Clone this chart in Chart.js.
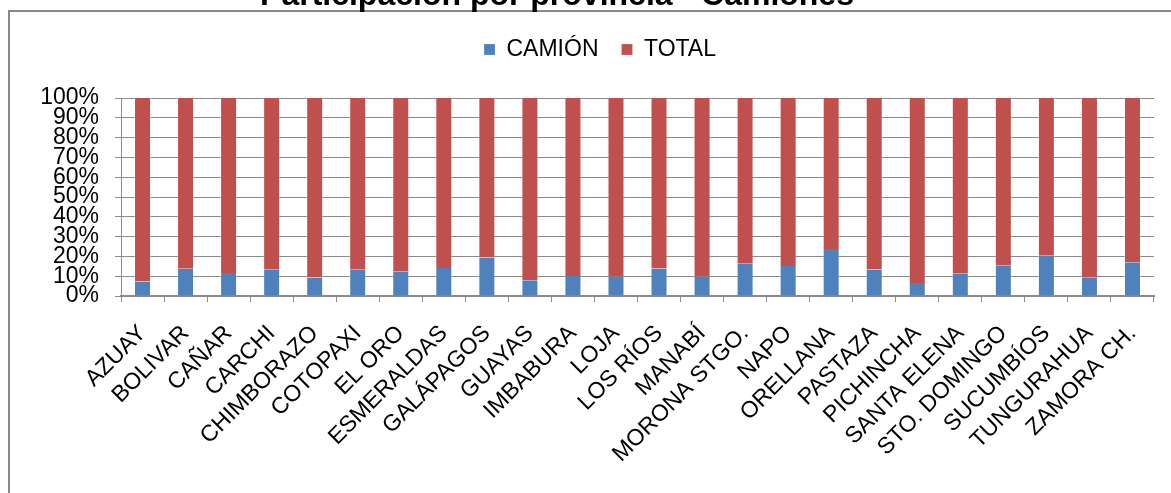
<!DOCTYPE html>
<html>
<head>
<meta charset="utf-8">
<script src="https://cdn.jsdelivr.net/npm/chart.js@4"></script>
<style>
  html, body { margin: 0; padding: 0; background: #fff; overflow: hidden; }
  #wrap { position: relative; width: 1171px; height: 493px; overflow: hidden; }
  #frame { position: absolute; left: 8px; top: 10px; width: 1250px; height: 600px; border: 2px solid #898989; box-sizing: border-box; }
  #chart { position: absolute; left: 0; top: -23px; }
</style>
</head>
<body>
<div id="wrap">
  <div id="frame"></div>
  <canvas id="chart" width="1171" height="516"></canvas>
</div>
<script>
// Participación por provincia - Camiones (100% apilado)
const provincias = ['AZUAY', 'BOLIVAR', 'CAÑAR', 'CARCHI', 'CHIMBORAZO', 'COTOPAXI', 'EL ORO',
    'ESMERALDAS', 'GALÁPAGOS', 'GUAYAS', 'IMBABURA', 'LOJA', 'LOS RÍOS', 'MANABÍ',
    'MORONA STGO.', 'NAPO', 'ORELLANA', 'PASTAZA', 'PICHINCHA', 'SANTA ELENA',
    'STO. DOMINGO', 'SUCUMBÍOS', 'TUNGURAHUA', 'ZAMORA CH.'];

const camion = [7.3, 13.7, 11.6, 13.2, 9.4, 13.2, 12.5, 14.2, 19.5, 8.0, 10.1, 9.8,
    13.9, 9.8, 16.3, 15.1, 23.7, 13.4, 6.6, 11.2, 15.3, 20.3, 9.2, 17.1];

const total = [92.7, 86.3, 88.4, 86.8, 90.6, 86.8, 87.5, 85.8, 80.5, 92.0, 89.9, 90.2,
    86.1, 90.2, 83.7, 84.9, 76.3, 86.6, 93.4, 88.8, 84.7, 79.7, 90.8, 82.9];

const yTicks = [0, 10, 20, 30, 40, 50, 60, 70, 80, 90, 100];

const FONT = "'Liberation Sans', Arial, sans-serif";
const GRID = '#8a8a8a';

// legend needs extra room below it, and title/legend sit off-centre in the original
const layoutTweaks = {
    id: 'layoutTweaks',
    beforeLayout(chart) {
        const lg = chart.legend;
        if (lg && !lg._patched) {
            const fit = lg.fit;
            lg.fit = function () {
                fit.call(this);
                this.height += 27;
            };
            lg._patched = true;
        }
    },
    afterLayout(chart) {
        if (chart.titleBlock) {
            chart.titleBlock.left -= 20;
            chart.titleBlock.right -= 20;
        }
        if (chart.legend) {
            chart.legend.left += 23;
            chart.legend.right += 23;
        }
    }
};

const ctx = document.getElementById('chart').getContext('2d');

new Chart(ctx, {
    type: 'bar',
    data: {
        labels: provincias,
        datasets: [{
            label: 'CAMIÓN',
            data: camion,
            backgroundColor: '#4F81BD',
            borderColor: 'rgba(255,255,255,0.35)',
            borderWidth: { left: 1, right: 1, top: 0, bottom: 0 },
            barPercentage: 0.395,
            categoryPercentage: 1
        }, {
            label: 'TOTAL',
            data: total,
            backgroundColor: '#C0504D',
            borderColor: 'rgba(255,255,255,0.35)',
            borderWidth: { left: 1, right: 1, top: 0, bottom: 0 },
            barPercentage: 0.395,
            categoryPercentage: 1
        }]
    },
    options: {
        responsive: false,
        animation: false,
        layout: { padding: { left: 0, right: 17, top: 0, bottom: 0 } },
        plugins: {
            tooltip: { enabled: false },
            title: {
                display: true,
                text: 'Participación por provincia - Camiones',
                color: '#000',
                font: { family: FONT, size: 32, weight: 'bold', lineHeight: 1 },
                padding: { top: 3, bottom: 3 }
            },
            legend: {
                position: 'top',
                labels: {
                    color: '#000',
                    font: { family: FONT, size: 23 },
                    boxWidth: 11,
                    boxHeight: 11,
                    padding: 23
                }
            }
        },
        scales: {
            x: {
                stacked: true,
                afterFit(scale) { scale.height = 197; },
                grid: {
                    display: true,
                    drawOnChartArea: false,
                    drawTicks: true,
                    tickLength: 6,
                    tickColor: GRID,
                    offset: true
                },
                border: { display: true, color: GRID, width: 2 },
                ticks: {
                    autoSkip: false,
                    minRotation: 45,
                    maxRotation: 45,
                    color: '#000',
                    font: { family: FONT, size: 23 },
                    padding: 18
                }
            },
            y: {
                stacked: true,
                min: 0,
                max: 100,
                afterFit(scale) { scale.width = 121; },
                afterBuildTicks(scale) {
                    scale.ticks = yTicks.map(v => ({ value: v }));
                },
                grid: {
                    color: GRID,
                    lineWidth: 1,
                    drawTicks: true,
                    tickLength: 6,
                    tickColor: GRID
                },
                border: { display: true, color: GRID, width: 1 },
                ticks: {
                    autoSkip: false,
                    color: '#000',
                    font: { family: FONT, size: 23 },
                    padding: 16,
                    callback: v => v + '%'
                }
            }
        }
    },
    plugins: [layoutTweaks]
});
</script>
</body>
</html>
